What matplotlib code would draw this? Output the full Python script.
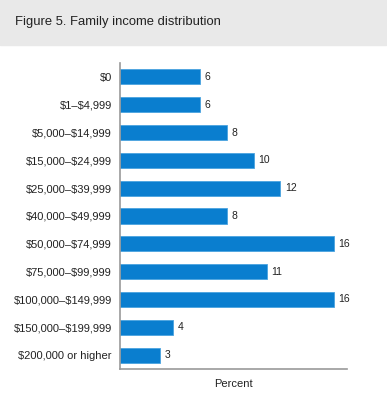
import matplotlib.pyplot as plt
from matplotlib import font_manager
from matplotlib.patches import Rectangle

plt.rcParams['text.parse_math'] = False

categories = ['$0', '$1–$4,999', '$5,000–$14,999', '$15,000–$24,999',
              '$25,000–$39,999', '$40,000–$49,999', '$50,000–$74,999',
              '$75,000–$99,999', '$100,000–$149,999', '$150,000–$199,999',
              '$200,000 or higher']
percent = [6, 6, 8, 10, 12, 8, 16, 11, 16, 4, 3]

names = {f.name for f in font_manager.fontManager.ttflist}
narrow = 'Liberation Sans Narrow' if 'Liberation Sans Narrow' in names else 'Liberation Sans'

fig = plt.figure(figsize=(3.87, 4.01), dpi=100)

# title band
fig.patches.append(Rectangle((0, 1 - 45 / 401), 386 / 387, 45 / 401,
                             transform=fig.transFigure, color='#e9e9e9', zorder=0))
fig.text(15 / 387, 1 - 22 / 401, 'Figure 5. Family income distribution',
         fontsize=9.4, family='Liberation Sans', color='#222222', va='center')

ax = fig.add_axes([120 / 387, 1 - 369 / 401, 227 / 387, 306 / 401])
y = range(len(categories))
ax.barh(y, percent, height=0.54, color='#0a7ecf', edgecolor='#4aa3e0', linewidth=0.6)
for i, v in enumerate(percent):
    ax.text(v + 0.35, i, str(v), va='center', ha='left', fontsize=7.5,
            family=narrow, color='#222222')

ax.set_xlim(0, 17)
ax.set_ylim(10.5, -0.5)
ax.set_yticks(list(y))
ax.set_yticklabels(categories, fontsize=8, family=narrow, color='#222222')
ax.set_xticks([])
ax.tick_params(axis='y', length=0, pad=6)
for s in ['top', 'right']:
    ax.spines[s].set_visible(False)
for s in ['left', 'bottom']:
    ax.spines[s].set_color('#999999')
    ax.spines[s].set_linewidth(1.2)
ax.set_xlabel('Percent', fontsize=8, family=narrow, color='#222222', labelpad=7)

fig.savefig('out.png', dpi=100)
